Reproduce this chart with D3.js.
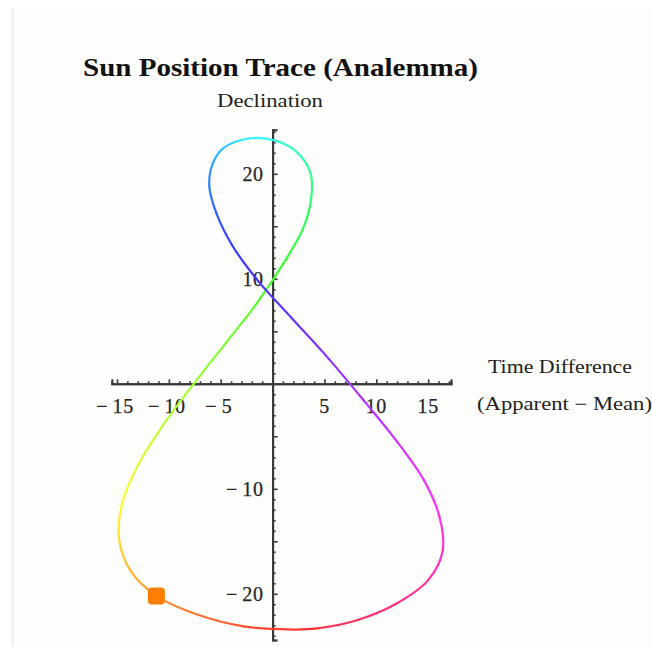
<!DOCTYPE html>
<html>
<head>
<meta charset="utf-8">
<script src="https://cdn.jsdelivr.net/npm/d3@7"></script>
<style>
  html, body { margin: 0; padding: 0; background: #ffffff; }
  svg { display: block; }
</style>
</head>
<body>
<svg id="chart" width="652" height="647"></svg>
<script>
// Analemma: sun position sampled every 10 days, starting at the December solstice.
const dates = ["Dec 21","Dec 31","Jan 10","Jan 20","Jan 30","Feb 9","Feb 19","Mar 1","Mar 11","Mar 21",
  "Mar 31","Apr 10","Apr 20","Apr 30","May 10","May 20","May 30","Jun 9","Jun 19","Jun 29",
  "Jul 9","Jul 19","Jul 29","Aug 8","Aug 18","Aug 28","Sep 7","Sep 17","Sep 27","Oct 7",
  "Oct 17","Oct 27","Nov 6","Nov 16","Nov 26","Dec 6","Dec 16"];
const daysFromSolstice = [0,10,20,30,40,50,60,70,80,90,100,110,120,130,140,150,160,170,180,190,
  200,210,220,230,240,250,260,270,280,290,300,310,320,330,340,350,360];
// Apparent minus mean solar time, minutes
const timeDifference = [1.8,-2.8,-7.2,-11.2,-13.7,-14.8,-14.5,-13.0,-10.6,-7.6,
  -4.5,-1.5,1.0,2.9,3.7,3.7,2.7,1.0,-1.1,-3.1,
  -4.8,-5.8,-6.1,-5.4,-3.9,-1.4,1.9,5.4,8.8,12.0,
  14.6,16.1,16.4,15.0,12.0,8.2,4.3];
// Declination, degrees
const declination = [-23.4,-23.1,-22.0,-20.2,-17.8,-14.8,-11.4,-7.8,-4.0,0.0,
  3.9,7.7,11.4,14.7,17.5,19.9,21.7,22.9,23.4,23.2,
  22.4,20.9,18.8,16.2,13.2,9.8,6.2,2.4,-1.6,-5.5,
  -9.2,-12.7,-15.9,-18.7,-20.9,-22.5,-23.3];
const yearLength = 365;
const currentDate = "Jan 20";

const xTickValues = [-15,-10,-5,5,10,15];
const yTickValues = [-20,-10,10,20];

const svg = d3.select("#chart");

// light panel behind the plot
svg.append("rect").attr("x", 12).attr("y", 8).attr("width", 640).attr("height", 639)
  .attr("fill", "#fdfdfc");
svg.append("line").attr("x1", 12.5).attr("x2", 12.5).attr("y1", 8).attr("y2", 647)
  .attr("stroke", "#efeff3").attr("stroke-width", 2);

const x = d3.scaleLinear().domain([-15.5, 17.2]).range([111.8, 451]);
const y = d3.scaleLinear().domain([-24.4, 24.2]).range([640, 129.7]);

const serif = "'Liberation Serif', 'Times New Roman', serif";
const axisColor = "#3a3a3a";

// ---- axes through the origin ----
const xAxisG = svg.append("g").attr("transform", `translate(0,${y(0)})`);
const yAxisG = svg.append("g").attr("transform", `translate(${x(0)},0)`);

// minor ticks every unit, major every five
const xMinor = d3.range(-15, 18).filter(v => v !== 0);
const yMinor = d3.range(-24, 25).filter(v => v !== 0);

xAxisG.call(d3.axisTop(x).tickValues(xMinor.filter(v => v % 5 !== 0)).tickSize(2.5).tickFormat(""));
xAxisG.call(g => g.append("g").call(d3.axisTop(x).tickValues(xMinor.filter(v => v % 5 === 0)).tickSize(4.5).tickFormat("")));
yAxisG.call(d3.axisRight(y).tickValues(yMinor.filter(v => v % 5 !== 0)).tickSize(3).tickFormat(""));
yAxisG.call(g => g.append("g").call(d3.axisRight(y).tickValues(yMinor.filter(v => v % 5 === 0)).tickSize(5).tickFormat("")));

svg.selectAll(".domain").attr("stroke", axisColor).attr("stroke-width", 2);
svg.selectAll(".tick line").attr("stroke", axisColor).attr("stroke-width", 1.6);

const fmt = v => (v < 0 ? "\u2212\u2009" + Math.abs(v) : String(v));

svg.append("g").selectAll("text").data(xTickValues).join("text")
  .attr("x", d => x(d) + (d < 0 ? -2 : 0))
  .attr("y", y(0) + 29)
  .attr("text-anchor", "middle")
  .attr("font-family", serif).attr("font-size", 20).attr("letter-spacing", 0.6)
  .attr("fill", "#262626").attr("stroke", "#262626").attr("stroke-width", 0.25)
  .text(fmt);

svg.append("g").selectAll("text").data(yTickValues).join("text")
  .attr("x", x(0) - 9)
  .attr("y", d => y(d) + 7)
  .attr("text-anchor", "end")
  .attr("font-family", serif).attr("font-size", 20).attr("letter-spacing", 0.6)
  .attr("fill", "#262626").attr("stroke", "#262626").attr("stroke-width", 0.25)
  .text(fmt);

// ---- titles ----
svg.append("text").attr("x", 83).attr("y", 76)
  .attr("font-family", serif).attr("font-weight", "bold").attr("font-size", 25)
  .attr("textLength", 395).attr("lengthAdjust", "spacingAndGlyphs")
  .attr("fill", "#111").text("Sun Position Trace (Analemma)");
svg.append("text").attr("x", 217).attr("y", 107)
  .attr("font-family", serif).attr("font-size", 18)
  .attr("textLength", 106).attr("lengthAdjust", "spacingAndGlyphs")
  .attr("fill", "#222").text("Declination");
svg.append("text").attr("x", 488).attr("y", 373)
  .attr("font-family", serif).attr("font-size", 18)
  .attr("textLength", 144).attr("lengthAdjust", "spacingAndGlyphs")
  .attr("fill", "#222").text("Time Difference");
svg.append("text").attr("x", 477).attr("y", 410)
  .attr("font-family", serif).attr("font-size", 18)
  .attr("textLength", 175).attr("lengthAdjust", "spacingAndGlyphs")
  .attr("fill", "#222").text("(Apparent \u2212 Mean)");

// ---- the trace, coloured by time of year ----
const pts = timeDifference.map((t, i) => [x(t), y(declination[i])]);
const n = pts.length;
const hueAt = d => (d / yearLength) * 360;

// middle piece of a Catmull-Rom run through four points
function middleSegment(a, b, c, d) {
  const calls = [];
  const rec = {
    moveTo(px, py) { calls.push(["M", px, py]); },
    lineTo(px, py) { calls.push(["L", px, py]); },
    bezierCurveTo(...args) { calls.push(["C", ...args]); },
    closePath() {}
  };
  d3.line().curve(d3.curveCatmullRom.alpha(0.5)).context(rec)([a, b, c, d]);
  const seg = calls[2];
  const p = d3.path();
  p.moveTo(b[0], b[1]);
  if (seg && seg[0] === "C") p.bezierCurveTo(...seg.slice(1));
  else p.lineTo(c[0], c[1]);
  return p.toString();
}

const defs = svg.append("defs");
const trace = svg.append("g").attr("fill", "none").attr("stroke-width", 2.2)
  .attr("stroke-linecap", "round");

for (let i = 0; i < n; i++) {
  const a = pts[(i - 1 + n) % n], b = pts[i], c = pts[(i + 1) % n], d = pts[(i + 2) % n];
  const d0 = daysFromSolstice[i];
  const d1 = i + 1 < n ? daysFromSolstice[i + 1] : yearLength;
  const gid = "seg" + i;
  const grad = defs.append("linearGradient").attr("id", gid)
    .attr("gradientUnits", "userSpaceOnUse")
    .attr("x1", b[0]).attr("y1", b[1]).attr("x2", c[0]).attr("y2", c[1]);
  grad.append("stop").attr("offset", 0).attr("stop-color", d3.hsl(hueAt(d0), 1, 0.6).formatHex());
  grad.append("stop").attr("offset", 1).attr("stop-color", d3.hsl(hueAt(d1), 1, 0.6).formatHex());
  trace.append("path").attr("d", middleSegment(a, b, c, d)).attr("stroke", `url(#${gid})`);
}

// current position marker
const ci = dates.indexOf(currentDate);
const ms = 17;
svg.append("rect")
  .attr("x", x(timeDifference[ci]) - ms / 2)
  .attr("y", y(declination[ci]) - ms / 2)
  .attr("width", ms).attr("height", ms).attr("rx", 4)
  .attr("fill", d3.hsl(hueAt(daysFromSolstice[ci]), 1, 0.5).formatHex());
</script>
</body>
</html>
